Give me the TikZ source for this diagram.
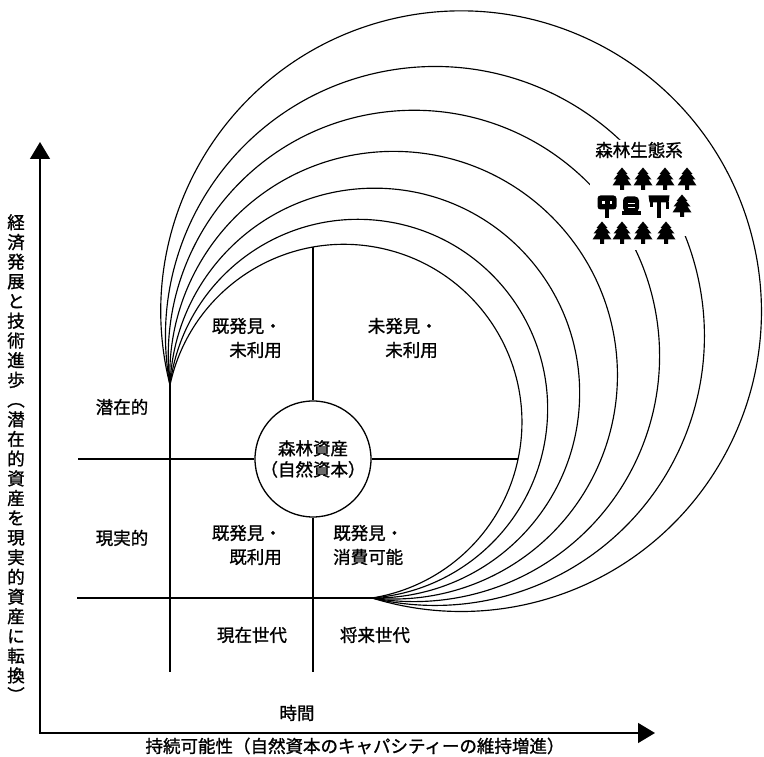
\documentclass[tikz,border=0pt]{standalone}
\usepackage{fontspec}
\newfontfamily\jp[FakeBold=1.2]{Noto Sans CJK JP}
\usetikzlibrary{calc,arrows.meta}

\tikzset{
  % small tree icons for the forest ecosystem
  conifer/.pic={
    \fill (0,11.5) -- (-5.5,5) -- (-4,5) -- (-8.5,-0.5) -- (-5.5,-0.5) -- (-9.5,-6.5)
      -- (-2,-6.5) -- (-2,-11) -- (2,-11) -- (2,-6.5) -- (9.5,-6.5)
      -- (5.5,-0.5) -- (8.5,-0.5) -- (4,5) -- (5.5,5) -- cycle;
  },
  oaktree/.pic={
    \fill[rounded corners=3pt] (-9.5,-3.5) rectangle (9.5,10.5);
    \fill (-2.2,-3) rectangle (2.2,-12);
    \fill[white] (-5,2) rectangle (-2.5,5);
    \fill[white] (2.5,2) rectangle (5,5);
  },
  blobtree/.pic={
    \fill[rounded corners=4pt] (-8,-6) rectangle (8,9.5);
    \fill[white] (-3.5,1.5) rectangle (3.5,3.2);
    \fill[white] (-3.5,-2.5) rectangle (3.5,-1);
    \fill (-9.5,-5.5) -- (9.5,-5.5) -- (9.5,-9.5) -- (-9.5,-9.5) -- cycle;
  },
  umbrellatree/.pic={
    \fill (-10.5,10.5) -- (10.5,10.5) -- (9.5,3.5) -- (-9.5,3.5) -- cycle;
    \fill (-2.2,4) rectangle (2.2,-12);
    \fill (-9.5,4) rectangle (-6.5,-1.5);
    \fill (6.5,4) rectangle (9.5,-3.5);
  },
}

\begin{document}
\begin{tikzpicture}[x=1pt,y=1pt,
  lbl/.style={font=\jp\fontsize{17.5}{24}\selectfont, inner sep=0pt},
  gridline/.style={line width=1.3pt},
  arcline/.style={line width=1.15pt},
  axisline/.style={line width=1.5pt,
    {Triangle[length=17pt,width=20pt]}-{Triangle[length=17pt,width=20pt]}},
]
\useasboundingbox (0,0) rectangle (764,757);

% cusps where the family of arcs meets
\coordinate (L) at (170,372);
\coordinate (C) at (372,159);

% central asset circle
\node[lbl, draw, circle, minimum size=116pt, line width=1.3pt, align=center,
      font=\jp\fontsize{17.5}{21}\selectfont] (asset) at (313,298)
      {森林資産\\（自然資本）};

% grid line end points
\coordinate (vlbot) at (170,85);
\coordinate (vmtop) at (313,510);
\coordinate (vmbot) at (313,85);
\coordinate (hul) at (78,298);
\coordinate (hur) at (518,298);
\coordinate (hll) at (77,159);

\draw[gridline] (L) -- (vlbot);
\draw[gridline] (vmtop) -- (asset);
\draw[gridline] (asset) -- (vmbot);
\draw[gridline] (hul) -- (asset);
\draw[gridline] (asset) -- (hur);
\draw[gridline] (hll) -- (C);

% arcs: circles through both cusps, centres on the perpendicular bisector
\foreach \t in {100.6,120,143,169,197,226,262}{
  \coordinate (ctr) at ({271+0.7256*\t},{265.5+0.68813*\t});
  \draw[arcline] let \p1=($(L)-(ctr)$), \p2=($(C)-(ctr)$),
      \n1={mod(atan2(\y1,\x1)+360,360)}, \n2={atan2(\y2,\x2)},
      \n3={veclen(\x1,\y1)}
    in (L) arc[start angle=\n1, end angle=\n2, radius=\n3];
}

% clear space for the ecosystem label and trees
\fill[white] (590,617) -- (705,617) -- (705,521) -- (660,521) -- (660,507)
  -- (590,507) -- cycle;

% axes
\coordinate (O) at (40,24);
\coordinate (ytip) at (40,615);
\coordinate (xtip) at (655,24);
\draw[axisline] (ytip) -- (O) -- (xtip);

% labels
\node[lbl] (eco) at (639,607) {森林生態系};
\pic at (622,578) {conifer};
\pic at (643,578) {conifer};
\pic at (665,578) {conifer};
\pic at (687,578) {conifer};
\pic at (607,551) {oaktree};
\pic at (631,551) {blobtree};
\pic at (659,551) {umbrellatree};
\pic at (682,551) {conifer};
\pic at (602,524) {conifer};
\pic at (622,524) {conifer};
\pic at (643,524) {conifer};
\pic at (666,524) {conifer};

\node[lbl, anchor=east, align=right] (kmr) at (282,419) {既発見・\\未利用};
\node[lbl, anchor=east, align=right] (mmr) at (438,419) {未発見・\\未利用};
\node[lbl, anchor=east, align=right] (kkr) at (282,212) {既発見・\\既利用};
\node[lbl, anchor=west, align=left] (ksh) at (333,212) {既発見・\\消費可能};
\node[lbl] (sen) at (122,350) {潜在的};
\node[lbl] (gen) at (122,219) {現実的};
\node[lbl] (now) at (252,122) {現在世代};
\node[lbl] (fut) at (375,122) {将来世代};
\node[lbl] (time) at (297,44) {時間};
\node[lbl] (xlab) at (355,11) {持続可能性（自然資本のキャパシティーの維持増進）};
\node[lbl, align=center, font=\jp\fontsize{17.5}{19.7}\selectfont] (ylab) at (16,299)
  {経\\済\\発\\展\\と\\技\\術\\進\\歩\\︵\\潜\\在\\的\\資\\産\\を\\現\\実\\的\\資\\産\\に\\転\\換\\︶};
\end{tikzpicture}
\end{document}
